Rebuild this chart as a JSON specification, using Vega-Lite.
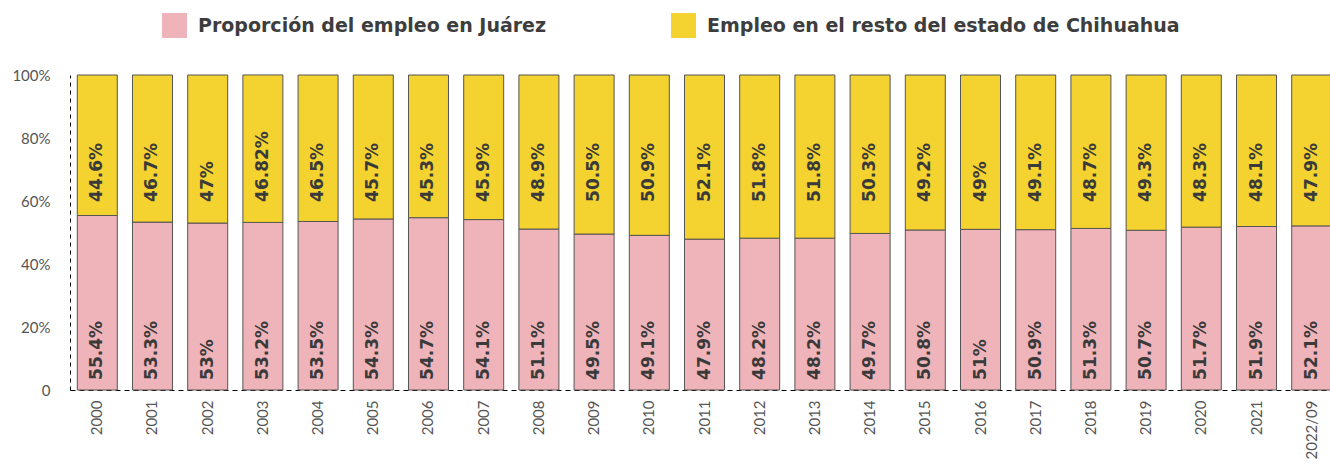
{
  "$schema": "https://vega.github.io/schema/vega-lite/v6.json",
  "width": 1269,
  "height": 315,
  "autosize": {"type": "none"},
  "padding": {"left": 70, "top": 75, "right": 0, "bottom": 78},
  "background": "white",
  "config": {"view": {"stroke": null}, "font": "Lato"},
  "data": {
    "values": [
      {"year": "2000", "serie": "Proporción del empleo en Juárez", "k": 1, "value": 55.4},
      {"year": "2000", "serie": "Empleo en el resto del estado de Chihuahua", "k": 2, "value": 44.6},
      {"year": "2001", "serie": "Proporción del empleo en Juárez", "k": 1, "value": 53.3},
      {"year": "2001", "serie": "Empleo en el resto del estado de Chihuahua", "k": 2, "value": 46.7},
      {"year": "2002", "serie": "Proporción del empleo en Juárez", "k": 1, "value": 53},
      {"year": "2002", "serie": "Empleo en el resto del estado de Chihuahua", "k": 2, "value": 47},
      {"year": "2003", "serie": "Proporción del empleo en Juárez", "k": 1, "value": 53.2},
      {"year": "2003", "serie": "Empleo en el resto del estado de Chihuahua", "k": 2, "value": 46.82},
      {"year": "2004", "serie": "Proporción del empleo en Juárez", "k": 1, "value": 53.5},
      {"year": "2004", "serie": "Empleo en el resto del estado de Chihuahua", "k": 2, "value": 46.5},
      {"year": "2005", "serie": "Proporción del empleo en Juárez", "k": 1, "value": 54.3},
      {"year": "2005", "serie": "Empleo en el resto del estado de Chihuahua", "k": 2, "value": 45.7},
      {"year": "2006", "serie": "Proporción del empleo en Juárez", "k": 1, "value": 54.7},
      {"year": "2006", "serie": "Empleo en el resto del estado de Chihuahua", "k": 2, "value": 45.3},
      {"year": "2007", "serie": "Proporción del empleo en Juárez", "k": 1, "value": 54.1},
      {"year": "2007", "serie": "Empleo en el resto del estado de Chihuahua", "k": 2, "value": 45.9},
      {"year": "2008", "serie": "Proporción del empleo en Juárez", "k": 1, "value": 51.1},
      {"year": "2008", "serie": "Empleo en el resto del estado de Chihuahua", "k": 2, "value": 48.9},
      {"year": "2009", "serie": "Proporción del empleo en Juárez", "k": 1, "value": 49.5},
      {"year": "2009", "serie": "Empleo en el resto del estado de Chihuahua", "k": 2, "value": 50.5},
      {"year": "2010", "serie": "Proporción del empleo en Juárez", "k": 1, "value": 49.1},
      {"year": "2010", "serie": "Empleo en el resto del estado de Chihuahua", "k": 2, "value": 50.9},
      {"year": "2011", "serie": "Proporción del empleo en Juárez", "k": 1, "value": 47.9},
      {"year": "2011", "serie": "Empleo en el resto del estado de Chihuahua", "k": 2, "value": 52.1},
      {"year": "2012", "serie": "Proporción del empleo en Juárez", "k": 1, "value": 48.2},
      {"year": "2012", "serie": "Empleo en el resto del estado de Chihuahua", "k": 2, "value": 51.8},
      {"year": "2013", "serie": "Proporción del empleo en Juárez", "k": 1, "value": 48.2},
      {"year": "2013", "serie": "Empleo en el resto del estado de Chihuahua", "k": 2, "value": 51.8},
      {"year": "2014", "serie": "Proporción del empleo en Juárez", "k": 1, "value": 49.7},
      {"year": "2014", "serie": "Empleo en el resto del estado de Chihuahua", "k": 2, "value": 50.3},
      {"year": "2015", "serie": "Proporción del empleo en Juárez", "k": 1, "value": 50.8},
      {"year": "2015", "serie": "Empleo en el resto del estado de Chihuahua", "k": 2, "value": 49.2},
      {"year": "2016", "serie": "Proporción del empleo en Juárez", "k": 1, "value": 51},
      {"year": "2016", "serie": "Empleo en el resto del estado de Chihuahua", "k": 2, "value": 49},
      {"year": "2017", "serie": "Proporción del empleo en Juárez", "k": 1, "value": 50.9},
      {"year": "2017", "serie": "Empleo en el resto del estado de Chihuahua", "k": 2, "value": 49.1},
      {"year": "2018", "serie": "Proporción del empleo en Juárez", "k": 1, "value": 51.3},
      {"year": "2018", "serie": "Empleo en el resto del estado de Chihuahua", "k": 2, "value": 48.7},
      {"year": "2019", "serie": "Proporción del empleo en Juárez", "k": 1, "value": 50.7},
      {"year": "2019", "serie": "Empleo en el resto del estado de Chihuahua", "k": 2, "value": 49.3},
      {"year": "2020", "serie": "Proporción del empleo en Juárez", "k": 1, "value": 51.7},
      {"year": "2020", "serie": "Empleo en el resto del estado de Chihuahua", "k": 2, "value": 48.3},
      {"year": "2021", "serie": "Proporción del empleo en Juárez", "k": 1, "value": 51.9},
      {"year": "2021", "serie": "Empleo en el resto del estado de Chihuahua", "k": 2, "value": 48.1},
      {"year": "2022/09", "serie": "Proporción del empleo en Juárez", "k": 1, "value": 52.1},
      {"year": "2022/09", "serie": "Empleo en el resto del estado de Chihuahua", "k": 2, "value": 47.9}
    ]
  },
  "encoding": {
    "x": {
      "field": "year",
      "type": "ordinal",
      "sort": null,
      "scale": {"paddingInner": 0.2754, "paddingOuter": 0.132},
      "axis": {
        "title": null,
        "labelAngle": -90,
        "labelFont": "Lato",
        "labelFontSize": 15,
        "labelColor": "#555555",
        "labelPadding": 10,
        "ticks": false,
        "domainColor": "#000000",
        "domainWidth": 1,
        "domainDash": [5, 4]
      }
    }
  },
  "layer": [
    {
      "mark": {"type": "bar", "stroke": "#555555", "strokeWidth": 1},
      "encoding": {
        "y": {
          "field": "value",
          "type": "quantitative",
          "stack": "zero",
          "scale": {"domain": [0, 100]},
          "axis": {
            "title": null,
            "values": [0, 20, 40, 60, 80, 100],
            "labelExpr": "datum.value == 0 ? '0' : datum.value + '%'",
            "grid": false,
            "ticks": false,
            "labelFont": "Lato",
            "labelFontSize": 15,
            "labelColor": "#555555",
            "labelPadding": 20,
            "domainColor": "#000000",
            "domainWidth": 1,
            "domainDash": [4, 4]
          }
        },
        "color": {
          "field": "serie",
          "type": "nominal",
          "scale": {
            "domain": ["Proporción del empleo en Juárez", "Empleo en el resto del estado de Chihuahua"],
            "range": ["#EFB4B9", "#F4D22F"]
          },
          "legend": {
            "orient": "none",
            "legendX": 92,
            "legendY": -62,
            "direction": "horizontal",
            "title": null,
            "symbolType": "square",
            "symbolSize": 625,
            "symbolStrokeWidth": 0,
            "symbolOpacity": 1,
            "labelFont": "DejaVu Sans",
            "labelFontSize": 19,
            "labelFontWeight": "bold",
            "labelColor": "#3d3d3d",
            "labelOffset": 11,
            "labelLimit": 700,
            "columnPadding": 124
          }
        },
        "order": {"field": "k", "type": "quantitative"}
      }
    },
    {
      "transform": [{"filter": "datum.k == 1"}, {"calculate": "datum.value + '%'", "as": "lbl"}],
      "mark": {"type": "text", "angle": 270, "align": "left", "baseline": "middle", "font": "DejaVu Sans", "fontWeight": "bold", "fontSize": 17, "color": "#3a3a3a"},
      "encoding": {"y": {"datum": 3.2}, "text": {"field": "lbl"}}
    },
    {
      "transform": [{"filter": "datum.k == 2"}, {"calculate": "datum.value + '%'", "as": "lbl"}],
      "mark": {"type": "text", "angle": 270, "align": "left", "baseline": "middle", "font": "DejaVu Sans", "fontWeight": "bold", "fontSize": 17, "color": "#3a3a3a"},
      "encoding": {"y": {"datum": 59.7}, "text": {"field": "lbl"}}
    }
  ]
}
